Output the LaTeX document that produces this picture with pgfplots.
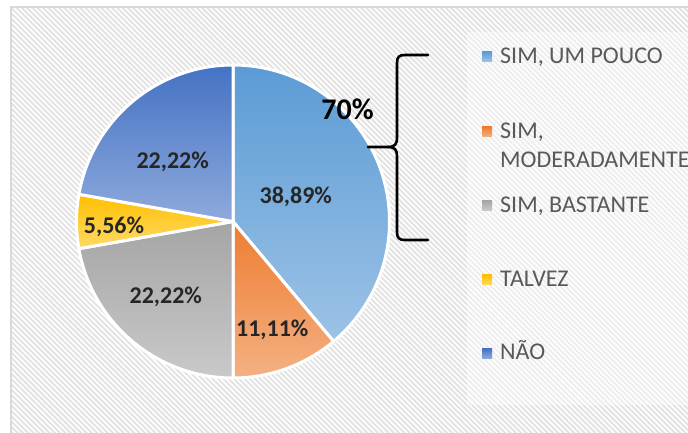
\documentclass[border=0pt]{standalone}
\usepackage{pgfplots}
\pgfplotsset{compat=1.18}
\usepackage{pgfplotstable}
\usepackage{fontspec}
\setmainfont{Carlito}

\definecolor{c0top}{HTML}{5B9BD5}\definecolor{c0bot}{HTML}{9DC3E6}
\definecolor{c1top}{HTML}{ED7D31}\definecolor{c1bot}{HTML}{F4B183}
\definecolor{c2top}{HTML}{A5A5A5}\definecolor{c2bot}{HTML}{C9C9C9}
\definecolor{c3top}{HTML}{FFC000}\definecolor{c3bot}{HTML}{FFD966}
\definecolor{c4top}{HTML}{4472C4}\definecolor{c4bot}{HTML}{8FAADC}
\definecolor{lbl}{HTML}{262626}
\definecolor{legtxt}{HTML}{595959}
\definecolor{frame}{HTML}{D9D9D9}
\definecolor{hatch}{HTML}{E3E3E3}

\newcommand\lblfont{\fontsize{24bp}{28bp}\selectfont\bfseries\color{lbl}}
\newcommand\legfont{\fontsize{24bp}{29bp}\selectfont\color{legtxt}}

% share (%) and label position relative to pie centre (bp)
\pgfplotstableread{
idx value lx ly
0 38.89 62.8 18.2
1 11.11 39.3 -115.2
2 22.22 -67.2 -81.8
3 5.56 -119.0 -11.8
4 22.22 -60.3 53.2
}\piedata

\begin{document}
\begin{tikzpicture}
\useasboundingbox (0,0) rectangle (688bp,433bp);
\clip (0,0) rectangle (688bp,433bp);
\fill[white] (0,0) rectangle (688bp,433bp);
\begin{scope}
\clip (11bp,-10bp) rectangle (700bp,426bp);
\foreach \k in {-460,-454.7,...,700}{
  \draw[hatch,line width=1.9bp] (\k bp,430bp) -- ++(460bp,-460bp);
}
\end{scope}
\draw[frame,line width=1.5bp] (11bp,-10bp) -- (11bp,426bp) -- (700bp,426bp);
% lighter legend area
\fill[white,opacity=0.4] (467bp,28bp) rectangle (700bp,401bp);

\begin{axis}[at={(233bp,211.5bp)}, anchor=origin, x=1bp, y=1bp,
  xmin=-160, xmax=160, ymin=-160, ymax=160, hide axis, clip=false,
  /pgf/number format/assume math mode=true]
\def\startang{90}
\pgfplotsforeachungrouped \i in {0,...,4}{%
  \pgfplotstablegetelem{\i}{value}\of\piedata \let\v=\pgfplotsretval
  \pgfmathsetmacro\endang{\startang-3.6*\v}%
  \edef\doit{\noexpand\shadedraw[top color=c\i top, bottom color=c\i bot, draw=white, line width=3bp, line join=round]
    (axis cs:0,0) -- ++(\startang:156.5bp) arc[start angle=\startang, end angle=\endang, radius=156.5bp] -- cycle;}%
  \doit
  \let\startang=\endang
}
\pgfplotsforeachungrouped \i in {0,...,4}{%
  \pgfplotstablegetelem{\i}{value}\of\piedata \let\v=\pgfplotsretval
  \pgfplotstablegetelem{\i}{lx}\of\piedata \let\lx=\pgfplotsretval
  \pgfplotstablegetelem{\i}{ly}\of\piedata \let\ly=\pgfplotsretval
  \edef\doit{\noexpand\node[anchor=base, inner sep=0pt, font=\noexpand\lblfont] at (axis cs:\lx,\ly)
    {\noexpand\pgfmathprintnumber[fixed,fixed zerofill,precision=2,use comma,assume math mode=true]{\v}\noexpand\%};}%
  \doit
}
\end{axis}

% brace and 70%
\draw[black,line width=2.6bp,line cap=round,line join=round]
  (428bp,378bp) -- (405bp,378bp) .. controls (399bp,378bp) and (397bp,376bp) .. (397bp,370bp)
  -- (397bp,295bp) .. controls (397bp,289bp) and (395bp,286bp) .. (388bp,286bp) -- (368bp,286bp);
\draw[black,line width=2.6bp,line cap=round,line join=round]
  (388bp,286bp) .. controls (395bp,286bp) and (397bp,283bp) .. (397bp,277bp)
  -- (397bp,201bp) .. controls (397bp,195bp) and (399bp,193bp) .. (405bp,193bp) -- (428bp,193bp);
\node[anchor=base, inner sep=0pt, font=\fontsize{30bp}{34bp}\selectfont\bfseries] at (347.5bp,313bp) {70\%};

% legend
\foreach \c/\y in {0/376.5, 1/301, 2/227.5, 3/153, 4/79.5}{
  \shade[top color=c\c top, bottom color=c\c bot] (482bp,\y bp-5bp) rectangle (492bp,\y bp+5bp);
}
\node[anchor=base west, inner sep=0pt, font=\legfont] at (500bp,369.7bp) {SIM, UM POUCO};
\node[anchor=base west, inner sep=0pt, font=\legfont] at (500bp,294.7bp) {SIM,};
\node[anchor=base west, inner sep=0pt, font=\legfont] at (500bp,265.7bp) {MODERADAMENTE};
\node[anchor=base west, inner sep=0pt, font=\legfont] at (500bp,220.7bp) {SIM, BASTANTE};
\node[anchor=base west, inner sep=0pt, font=\legfont] at (500bp,146.3bp) {TALVEZ};
\node[anchor=base west, inner sep=0pt, font=\legfont] at (500bp,73bp) {NÃO};
\end{tikzpicture}
\end{document}
